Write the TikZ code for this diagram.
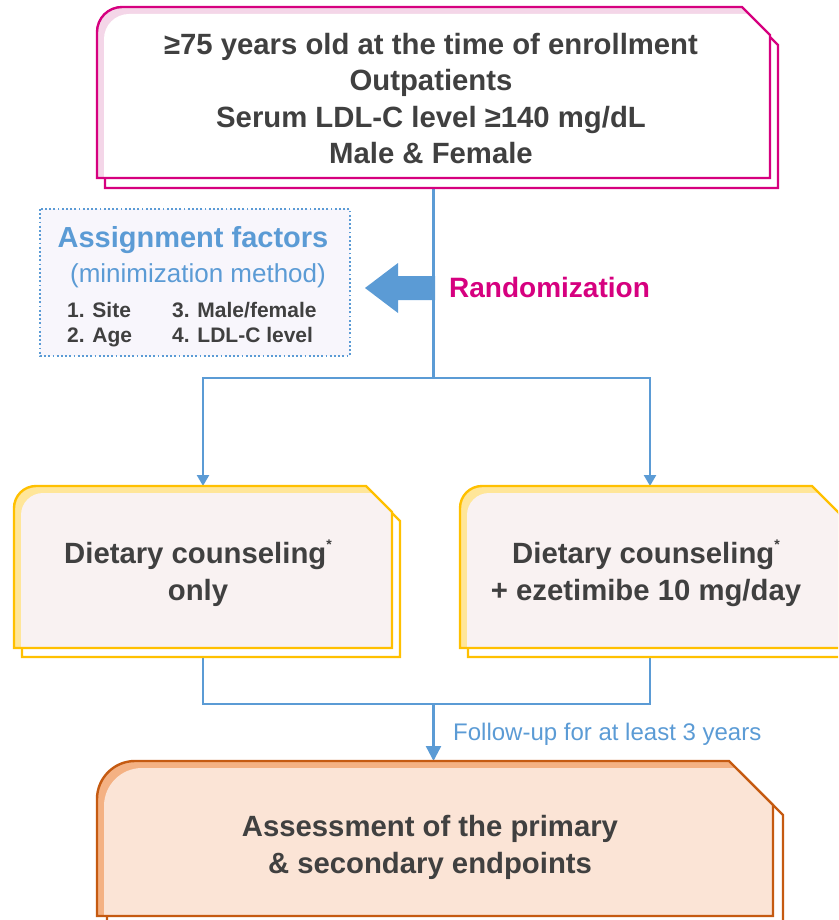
\documentclass[tikz,border=0pt]{standalone}
\usepackage{fontspec}
\setmainfont{Liberation Sans}
\usetikzlibrary{arrows.meta}
\definecolor{txt}{RGB}{64,64,64}
\definecolor{blu}{RGB}{91,155,213}
\definecolor{mag}{RGB}{214,0,127}
\definecolor{tops}{RGB}{214,0,127}
\definecolor{topb}{RGB}{244,214,232}
\definecolor{topf}{RGB}{255,255,255}
\definecolor{mids}{RGB}{255,192,0}
\definecolor{midb}{RGB}{255,230,153}
\definecolor{midf}{RGB}{249,242,242}
\definecolor{bots}{RGB}{197,90,17}
\definecolor{botb}{RGB}{244,177,131}
\definecolor{botf}{RGB}{251,228,214}
\definecolor{lav}{RGB}{248,246,252}
\tikzset{
  cbshape/.style n args={6}{insert path={(#1,#4) -- (#1,#2+#5) .. controls (#1,#2+0.448*#5) and (#1+0.448*#5,#2) .. (#1+#5,#2) -- (#3-#6,#2) -- (#3,#2+#6) -- (#3,#4) -- cycle}},
  area/.style={inner sep=0pt, outer sep=0pt, minimum width=#1},
  conn/.style={draw=blu, line width=2.4pt},
  tipS/.style={-{Triangle[width=12pt,length=11pt]}},
  tipL/.style={-{Triangle[width=15pt,length=15pt]}},
  big/.style={font=\fontsize{29.3}{36.5}\selectfont\bfseries, text=txt, align=center, inner sep=0pt},
  item/.style={font=\fontsize{21}{25}\selectfont\bfseries, text=txt, anchor=base west, inner sep=0pt},
}
\newcommand\drawcutbox[9]{%
  \path[draw=#7s, fill=white, line width=2.4pt, cbshape={#1+#8}{#2+#9}{#3+#8}{#4+#9}{#5}{#6}];
  \begin{scope}
    \clip[cbshape={#1}{#2}{#3}{#4}{#5}{#6}];
    \fill[#7b][cbshape={#1}{#2}{#3}{#4}{#5}{#6}];
    \fill[#7f][cbshape={#1+7}{#2+7}{#3+7}{#4+7}{#5}{#6}];
  \end{scope}
  \path[draw=#7s, line width=2.4pt, cbshape={#1}{#2}{#3}{#4}{#5}{#6}];
}
\newcommand\myast{\raisebox{0.5em}{\fontsize{14}{14}\selectfont *}}
\begin{document}
\begin{tikzpicture}[x=1pt,y=-1pt]
\useasboundingbox (0,0) rectangle (838,920);
\clip (0,0) rectangle (838,920);
% invisible box areas for connectors
\node[area=673pt, minimum height=171pt] (topbox) at (433.5,92.5) {};
\node[area=378pt, minimum height=162pt] (lbox) at (203,567) {};
\node[area=380pt, minimum height=162pt] (rbox) at (650,567) {};
\node[area=676pt, minimum height=155pt] (bbox) at (435,838.5) {};
\coordinate (split) at (433.5,378);
\coordinate (join) at (433.5,704);
% connectors
\draw[conn] (topbox.south) -- (split);
\draw[conn,tipS] (split) -| (lbox.north);
\draw[conn,tipS] (split) -| (rbox.north);
\draw[conn] (lbox.south) |- (join);
\draw[conn] (rbox.south) |- (join);
\draw[conn,tipL] (join) -- (join |- bbox.north);
% boxes
\drawcutbox{97}{7}{770}{178}{25}{28}{top}{8}{10}
\drawcutbox{14}{486}{392}{648}{22}{26}{mid}{8}{9}
\drawcutbox{460}{486}{840}{648}{22}{28}{mid}{8}{9}
\drawcutbox{97}{761}{773}{916}{38}{44}{bot}{10}{10}
% assignment box
\draw[blu, fill=lav, line width=1.8pt, dash pattern=on 1.8pt off 2.4pt] (40,209) rectangle (350,356);
\node[font=\fontsize{29}{34}\selectfont\bfseries, text=blu, anchor=base, inner sep=0pt] (asg) at (193,247) {Assignment factors};
\node[font=\fontsize{26}{30}\selectfont, text=blu, anchor=base, inner sep=0pt] (mm) at (198,282) {(minimization method)};
\node[item] (i1) at (67,317) {1. Site};
\node[item] (i2) at (67,342) {2. Age};
\node[item] (i3) at (172,317) {3. Male/female};
\node[item] (i4) at (172,342) {4. LDL-C level};
% big arrow
\fill[blu] (435,276) -- (398,276) -- (398,263) -- (365,288) -- (398,313) -- (398,300) -- (435,300) -- cycle;
\node[font=\fontsize{28}{34}\selectfont\bfseries, text=mag, anchor=base west, inner sep=0pt] (rand) at (449,297) {Randomization};
% texts
\node[big] (toptxt) at (431,98.5) {≥75 years old at the time of enrollment\\Outpatients\\Serum LDL-C level ≥140 mg/dL\\Male \& Female};
\node[big] (ltxt) at (198,573) {Dietary counseling\myast\\only};
\node[big] (rtxt) at (646,573) {Dietary counseling\myast\\+ ezetimibe 10 mg/day};
\node[big] (btxt) at (430,847.5) {Assessment of the primary\\\& secondary endpoints};
\node[font=\fontsize{24}{28}\selectfont, text=blu, anchor=base west, inner sep=0pt] (fu) at (453,740) {Follow-up for at least 3 years};
\end{tikzpicture}
\end{document}
